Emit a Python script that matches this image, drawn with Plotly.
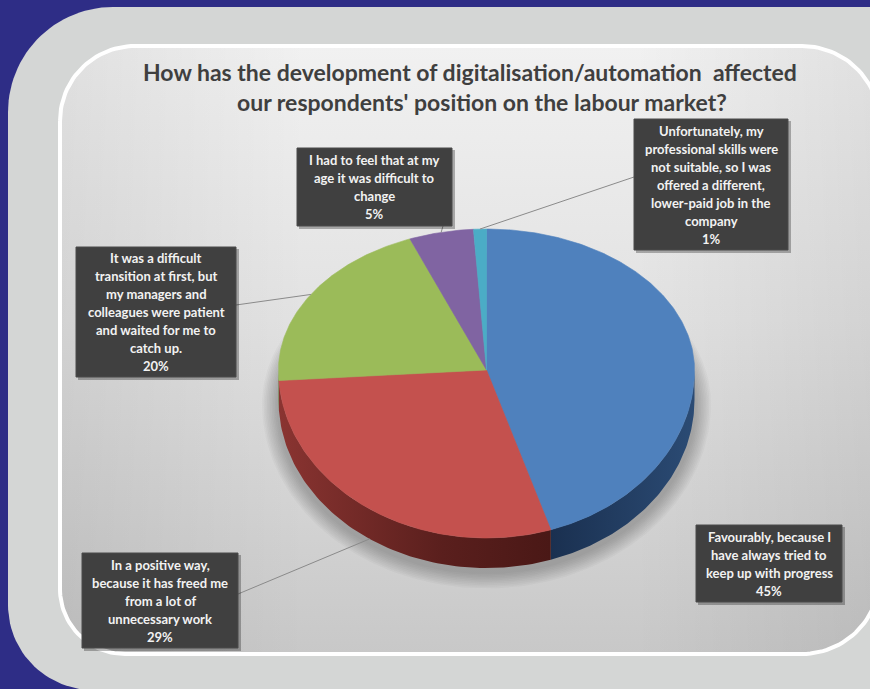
import numpy as np
import plotly.graph_objects as go

# ---- survey data -------------------------------------------------------
answers = [
    "Favourably, because I<br>have always tried to<br>keep up with progress",
    "In a positive way,<br>because it has freed me<br>from a lot of<br>unnecessary work",
    "It was a difficult<br>transition at first, but<br>my managers and<br>colleagues were patient<br>and waited for me to<br>catch up.",
    "I had to feel that at my<br>age it was difficult to<br>change",
    "Unfortunately, my<br>professional skills were<br>not suitable, so I was<br>offered a different,<br>lower-paid job in the<br>company",
]
shares = [45, 29, 20, 5, 1]
top_colors = ["#4f81bd", "#c4514e", "#9bbb59", "#8064a2", "#4bacc6"]
side_scales = [
    [[0, "#1a3050"], [1, "#2b4b74"]],
    [[0, "#8a3431"], [0.6, "#5a1f1d"], [1, "#4a1816"]],
    [[0, "#5f7a2e"], [1, "#4d6425"]],
    [[0, "#4d3a66"], [1, "#3f3055"]],
    [[0, "#2c7186"], [1, "#235d6e"]],
]

title_lines = [
    "How has the development of digitalisation/automation\u00a0 affected",
    "our respondents' position on the labour market?",
]

# ---- geometry of the tilted pie (pixel space) --------------------------
CX, CY = 486.5, 370.0
RX, RY_BACK, RY_FRONT = 208.0, 141.0, 168.0
DEPTH = 30.0

# label boxes: x0, y0, x1, y1 and where the leader line leaves the box
boxes = [
    (696, 525, 842, 602),
    (82, 553, 238, 648),
    (76, 247, 236, 377),
    (297, 148, 452, 226),
    (634, 119, 788, 250),
]
leader_from = [None, (238, 594), (236, 305), (443, 226), (634, 177)]
leader_drop = [0, DEPTH, 0, 0, 0]
LINE_GAP = 18.0

PANEL = (60, 46, 880, 654)


def rim(theta_deg, drop=0.0, grow=0.0):
    t = np.radians(theta_deg)
    c = np.cos(t)
    ry = np.where(c > 0, RY_BACK, RY_FRONT) + grow
    x = CX + (RX + grow) * np.sin(t)
    y = CY - ry * c + drop
    return x, y


def rounded_rect(x0, y0, x1, y1, r_tl, r_tr, r_br, r_bl, n=30):
    xs, ys = [], []
    for cx, cy, r, a0, a1 in [
        (x0 + r_tl, y0 + r_tl, r_tl, 180, 270),
        (x1 - r_tr, y0 + r_tr, r_tr, 270, 360),
        (x1 - r_br, y1 - r_br, r_br, 0, 90),
        (x0 + r_bl, y1 - r_bl, r_bl, 90, 180),
    ]:
        a = np.radians(np.linspace(a0, a1, n))
        xs.extend(cx + r * np.cos(a))
        ys.extend(cy + r * np.sin(a))
    xs.append(xs[0])
    ys.append(ys[0])
    return xs, ys


fig = go.Figure()

# outer light-grey card
gx, gy = rounded_rect(8, 7, 905, 690, 105, 10, 10, 85)
fig.add_trace(go.Scatter(x=gx, y=gy, mode="lines", fill="toself",
                         fillcolor="#d4d6d5", line=dict(width=0),
                         hoverinfo="skip"))

# inner chart area with white rim and soft gradient (light at the top)
ix, iy = rounded_rect(*PANEL, 75, 78, 78, 65)
fig.add_trace(go.Scatter(
    x=ix, y=iy, mode="lines", fill="toself",
    fillgradient=dict(type="vertical", start=PANEL[1], stop=PANEL[3],
                      colorscale=[[0, "#f1f1f1"], [0.45, "#e2e2e2"], [1, "#c8c8c8"]]),
    line=dict(width=0), hoverinfo="skip"))
fig.add_trace(go.Scatter(
    x=ix, y=iy, mode="lines", fill="toself",
    fillgradient=dict(type="horizontal",
                      colorscale=[[0, "rgba(0,0,0,0.07)"], [0.3, "rgba(0,0,0,0)"],
                                  [0.7, "rgba(0,0,0,0)"], [1, "rgba(0,0,0,0.07)"]]),
    line=dict(color="white", width=4), hoverinfo="skip"))

# soft shadow under the pie
full = np.linspace(0, 360, 241)
for k in range(10):
    sx, sy = rim(full, drop=DEPTH + 4, grow=2 + 1.6 * k)
    fig.add_trace(go.Scatter(x=sx, y=sy, mode="lines", fill="toself",
                             fillcolor="rgba(60,60,60,0.035)", line=dict(width=0),
                             hoverinfo="skip"))

# slice angles (clockwise from 12 o'clock)
total = float(sum(shares))
ends = np.cumsum(shares) / total * 360.0
starts = np.concatenate([[0.0], ends[:-1]])

# visible front wall of each slice
for s, e, scale in zip(starts, ends, side_scales):
    lo, hi = max(s, 90.0), min(e, 270.0)
    if hi <= lo:
        continue
    th = np.linspace(lo, hi, 80)
    tx, ty = rim(th)
    bx, by = rim(th[::-1], drop=DEPTH)
    fig.add_trace(go.Scatter(
        x=np.concatenate([tx, bx, tx[:1]]), y=np.concatenate([ty, by, ty[:1]]),
        mode="lines", fill="toself",
        fillgradient=dict(type="horizontal", colorscale=scale),
        line=dict(width=0), hoverinfo="skip"))

# top faces
for s, e, col, lab, v in zip(starts, ends, top_colors, answers, shares):
    th = np.linspace(s, e, max(int((e - s) * 1.5), 6))
    tx, ty = rim(th)
    fig.add_trace(go.Scatter(
        x=np.concatenate([[CX], tx, [CX]]), y=np.concatenate([[CY], ty, [CY]]),
        mode="lines", fill="toself", fillcolor=col,
        line=dict(color=col, width=0.6),
        hovertext=f"{lab.replace('<br>', ' ')}: {v}%", hoverinfo="text"))

# label boxes, leader lines and texts
shapes = []
annotations = []
label_font = dict(family="Lato, 'Open Sans', sans-serif", size=13,
                  color="#f2f2f2", weight="bold")
for i, (lab, v) in enumerate(zip(answers, shares)):
    x0, y0, x1, y1 = boxes[i]
    if leader_from[i] is not None:
        mid = (starts[i] + ends[i]) / 2.0
        px, py = rim(mid, drop=leader_drop[i])
        lx, ly = leader_from[i]
        shapes.append(dict(type="line", xref="x", yref="y", x0=float(px), y0=float(py),
                           x1=lx, y1=ly, line=dict(color="#8a8a8a", width=1), layer="above"))
    shapes.append(dict(type="rect", xref="x", yref="y", x0=x0 + 2, y0=y0 + 2,
                       x1=x1 + 3, y1=y1 + 3, fillcolor="rgba(0,0,0,0.28)",
                       line=dict(width=0), layer="above"))
    shapes.append(dict(type="rect", xref="x", yref="y", x0=x0, y0=y0, x1=x1, y1=y1,
                       fillcolor="#404040", line=dict(color="#4a4a4a", width=1),
                       layer="above"))
    lines = lab.split("<br>") + [f"{v}%"]
    yc = (y0 + y1) / 2.0
    n = len(lines)
    for k, txt in enumerate(lines):
        annotations.append(dict(
            x=(x0 + x1) / 2, y=yc + (k - (n - 1) / 2.0) * LINE_GAP,
            xref="x", yref="y", text=txt, showarrow=False,
            font=label_font, xanchor="center", yanchor="middle"))

title_font = dict(family="Lato, sans-serif", size=23, color="#3f3f3f", weight="bold")
annotations.append(dict(x=470, y=72, xref="x", yref="y", text=title_lines[0],
                        showarrow=False, xanchor="center", yanchor="middle",
                        font=title_font))
annotations.append(dict(x=482, y=102, xref="x", yref="y", text=title_lines[1],
                        showarrow=False, xanchor="center", yanchor="middle",
                        font=title_font))

fig.update_layout(
    width=870, height=689,
    margin=dict(l=0, r=0, t=0, b=0),
    paper_bgcolor="#2e2d86", plot_bgcolor="rgba(0,0,0,0)",
    showlegend=False,
    xaxis=dict(range=[0, 870], visible=False, fixedrange=True),
    yaxis=dict(range=[689, 0], visible=False, fixedrange=True),
    shapes=shapes, annotations=annotations,
)

fig.write_html("out.html")
